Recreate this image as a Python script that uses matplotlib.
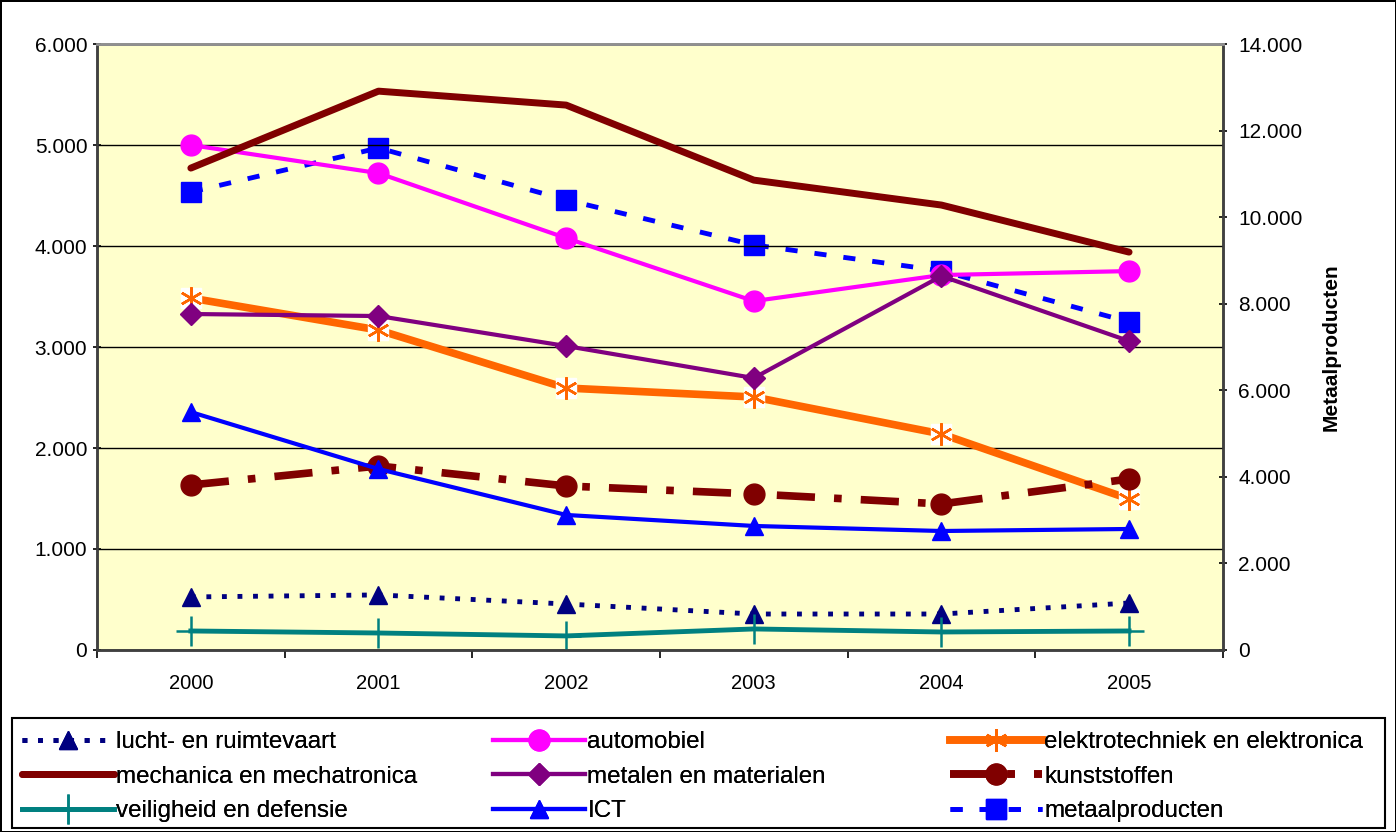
import matplotlib.pyplot as plt
from matplotlib.lines import Line2D
from matplotlib.patches import Rectangle
from matplotlib.ticker import FuncFormatter, MultipleLocator

plt.rcParams['font.family'] = ['Liberation Sans', 'DejaVu Sans']

years = ['2000', '2001', '2002', '2003', '2004', '2005']

lucht = [525, 545, 455, 356, 356, 465]
automobiel = [5000, 4722, 4079, 3455, 3713, 3752]
elektro = [3485, 3168, 2594, 2505, 2139, 1495]
mechanica = [4772, 5534, 5396, 4653, 4406, 3940]
metalen = [3327, 3307, 3010, 2693, 3703, 3059]
kunststoffen = [1634, 1822, 1624, 1545, 1446, 1693]
veiligheid = [188, 168, 139, 208, 178, 188]
ict = [2356, 1792, 1337, 1228, 1178, 1198]
metaalproducten = [10580, 11600, 10400, 9360, 8760, 7580]  # right axis


def dotted_thousands(v, pos):
    return f'{int(round(v)):,}'.replace(',', '.')


fig = plt.figure(figsize=(13.96, 8.32), dpi=100)
fig.patch.set_edgecolor('black')
fig.patch.set_linewidth(2)

ax = fig.add_axes([0.0695, 0.2188, 0.8065, 0.7282])
ax2 = ax.twinx()
ax.set_zorder(ax2.get_zorder() + 1)
ax.patch.set_visible(False)
ax2.patch.set_facecolor('#FFFFCC')
ax2.patch.set_visible(True)

x = list(range(len(years)))

h_lucht, = ax.plot(x, lucht, color='#000080', linestyle=(0, (1, 2.2)), linewidth=3.5,
                   marker='^', markersize=13, label='lucht- en ruimtevaart')
h_auto, = ax.plot(x, automobiel, color='#FF00FF', linewidth=3, marker='o', markersize=15,
                  label='automobiel')
ax.plot(x, elektro, color='#FF6600', linewidth=5.5, solid_capstyle='butt')
ax.plot(x, elektro, linestyle='none', marker='s', markersize=15, color='white')
ax.plot(x, elektro, color='#FF6600', marker=(6, 2, 0), markersize=16,
        markeredgewidth=1.8, linestyle='none')
h_mech, = ax.plot(x, mechanica, color='#800000', linewidth=5, solid_capstyle='round',
                  label='mechanica en mechatronica')
h_met, = ax.plot(x, metalen, color='#800080', linewidth=3, marker='D', markersize=11,
                 label='metalen en materialen')
h_kunst, = ax.plot(x, kunststoffen, color='#800000', linewidth=5.5, linestyle=(0, (5, 2.5, 1, 2.5)),
                   marker='o', markersize=15, label='kunststoffen')
h_veil, = ax.plot(x, veiligheid, color='#008080', linewidth=3.5, marker='+', markersize=22,
                  markeredgewidth=1.8, label='veiligheid en defensie')
h_ict, = ax.plot(x, ict, color='#0000FF', linewidth=3, marker='^', markersize=13, label='ICT')
h_metp, = ax2.plot(x, metaalproducten, color='#0000FF', linewidth=3.5, linestyle=(0, (2.5, 3.5)),
                   marker='s', markersize=15, label='metaalproducten')

# legend handle for elektro: thick line with asterisk
h_elek = Line2D([], [], color='#FF6600', linewidth=5.5, marker=(6, 2, 0), markersize=16,
                markeredgewidth=1.8, markerfacecolor='white')

ax.set_xlim(-0.5, len(years) - 0.5)
ax.set_ylim(0, 6000)
ax2.set_ylim(0, 14000)
ax.yaxis.set_major_locator(MultipleLocator(1000))
ax2.yaxis.set_major_locator(MultipleLocator(2000))
ax.yaxis.set_major_formatter(FuncFormatter(dotted_thousands))
ax2.yaxis.set_major_formatter(FuncFormatter(dotted_thousands))
ax.grid(axis='y', color='black', linewidth=1)
ax.set_axisbelow(True)

ax.set_xticks(x)
ax.set_xticklabels(years)
ax.set_xticks([i - 0.5 for i in range(len(years) + 1)], minor=True)
ax.tick_params(axis='x', which='major', length=0, pad=17, labelsize=14.5)
ax.tick_params(axis='x', which='minor', length=6, direction='out', width=1.2)
ax.tick_params(axis='y', length=6, width=1.2, labelsize=15, pad=4, direction='inout')
ax2.tick_params(axis='y', length=6, width=1.2, labelsize=15, direction='inout', pad=8)

for a in (ax, ax2):
    for side in ('left', 'right', 'bottom'):
        a.spines[side].set_color('#404040')
        a.spines[side].set_linewidth(1.8)
    a.spines['top'].set_color('#909090')
    a.spines['top'].set_linewidth(2)

ax2.set_ylabel('Metaalproducten', fontsize=15, fontweight='bold', labelpad=14)

# legend frame drawn separately, one legend per column
fig.add_artist(Rectangle((12 / 1396, 4 / 832), (1385 - 12) / 1396, (828 - 718) / 832,
                         transform=fig.transFigure, fill=False, edgecolor='black', linewidth=1.5))

columns = [
    ([h_lucht, h_mech, h_veil],
     ['lucht- en ruimtevaart', 'mechanica en mechatronica', 'veiligheid en defensie'], 22),
    ([h_auto, h_met, h_ict],
     ['automobiel', 'metalen en materialen', 'ICT'], 493),
    ([h_elek, h_kunst, h_metp],
     ['elektrotechniek en elektronica', 'kunststoffen', 'metaalproducten'], 950),
]
for hs, ls, px in columns:
    leg = fig.legend(hs, ls, loc='upper left', bbox_to_anchor=(px / 1396, 1 - 731 / 832),
                     fontsize=17.4, frameon=False, handlelength=3.8, handletextpad=0.1,
                     labelspacing=0.52, borderaxespad=0, borderpad=0)
    fig.add_artist(leg)

fig.savefig('out.png', dpi=100)
